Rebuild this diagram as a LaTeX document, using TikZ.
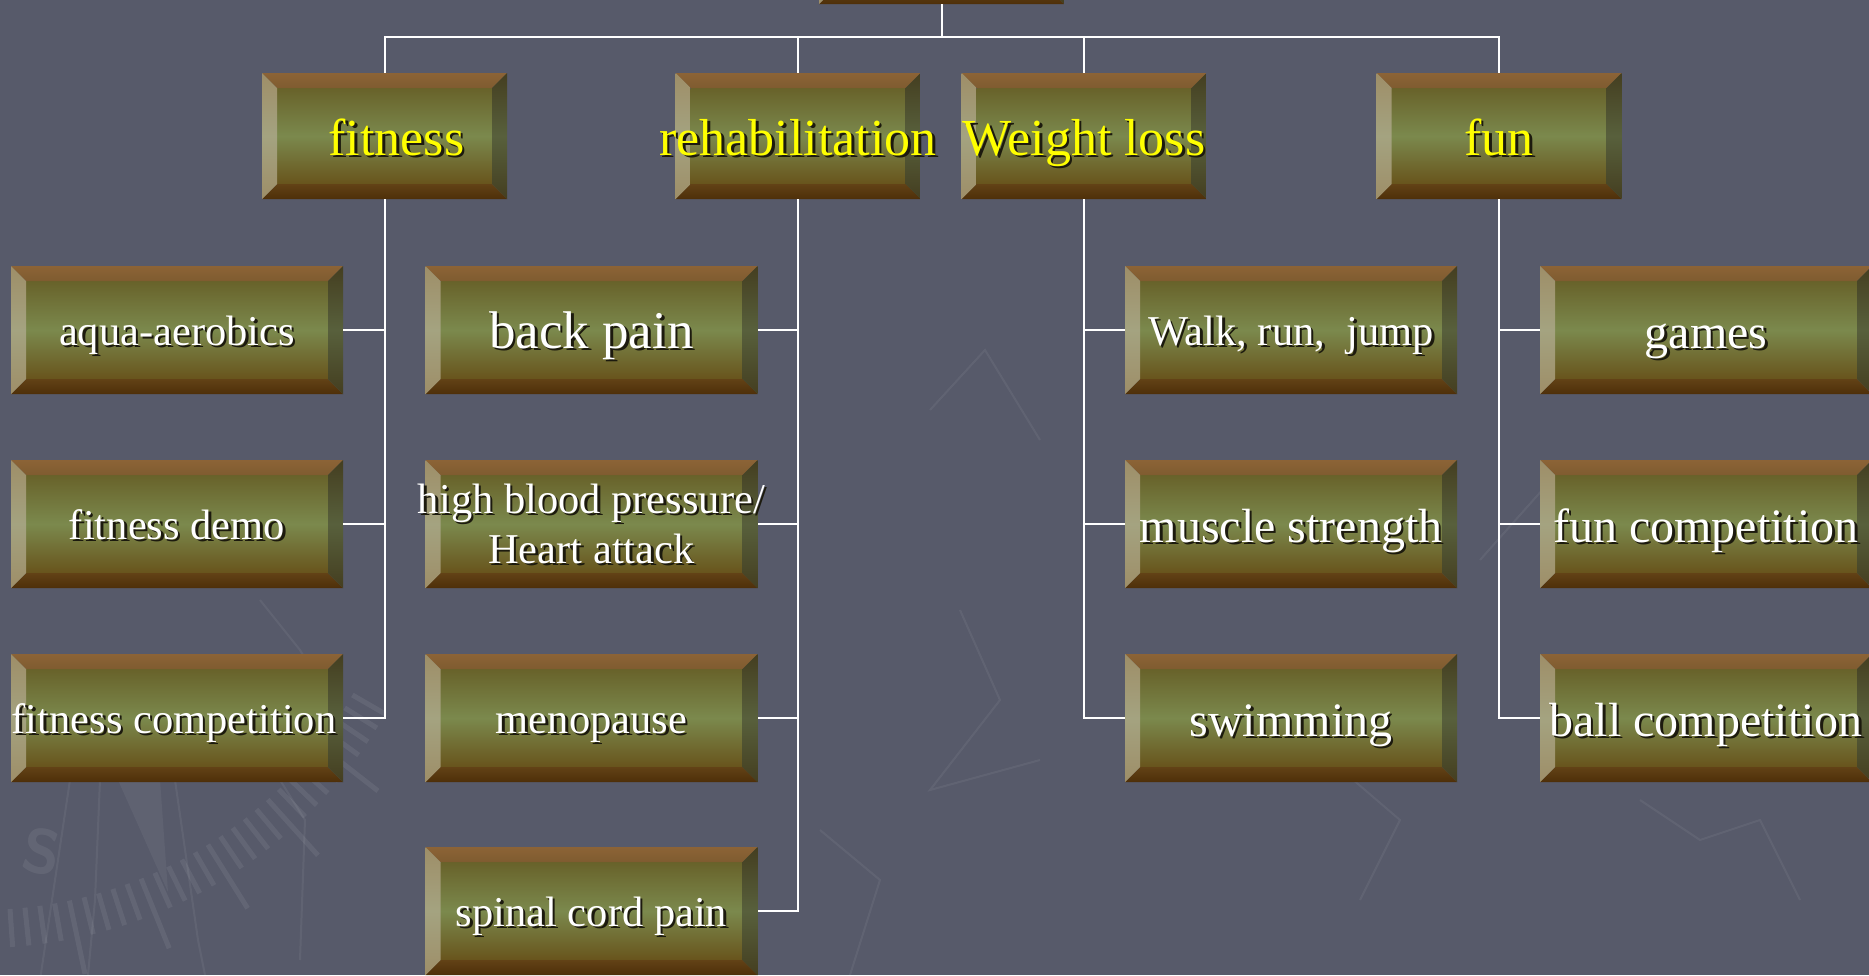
\documentclass[tikz,border=0pt]{standalone}
\usepackage{fontspec}
\setmainfont{Liberation Serif}
\usetikzlibrary{calc}

\definecolor{bg}{RGB}{87,90,106}
\definecolor{facetop}{RGB}{104,98,42}
\definecolor{facemid}{RGB}{123,137,77}
\definecolor{facebot}{RGB}{104,84,28}
\definecolor{bevtopA}{RGB}{140,99,54}
\definecolor{bevtopB}{RGB}{127,92,48}
\definecolor{bevbotA}{RGB}{98,66,22}
\definecolor{bevbotB}{RGB}{78,47,9}
\definecolor{bevlftA}{RGB}{158,142,104}
\definecolor{bevlftB}{RGB}{164,163,128}
\definecolor{bevrgtA}{RGB}{68,62,32}
\definecolor{bevrgtB}{RGB}{88,96,60}
\definecolor{txtshadow}{RGB}{28,26,14}
\definecolor{ylw}{RGB}{255,255,0}

% text with a dark drop shadow
\newcommand\shd[1]{\leavevmode\rlap{\kern2.5pt\raisebox{-2.5pt}{\color{txtshadow}#1}}#1}
% zero-width label so the box size never depends on the text
\newcommand\lbl[1]{\makebox[0pt]{\shd{#1}}}

\tikzset{
  bevbox/.style={rectangle, inner sep=0pt, text=white, text depth=0pt,
    path picture={
      \path (path picture bounding box.south west) coordinate (bsw)
            (path picture bounding box.north east) coordinate (bne);
      \shade[top color=facetop, bottom color=facebot, middle color=facemid]
        ($(bsw)+(15pt,15pt)$) rectangle ($(bne)+(-15pt,-15pt)$);
      \shade[top color=bevtopA, bottom color=bevtopB]
        (bsw|-bne) -- (bne) -- ($(bne)+(-15pt,-15pt)$) -- ($(bsw|-bne)+(15pt,-15pt)$) -- cycle;
      \shade[top color=bevbotA, bottom color=bevbotB]
        (bsw) -- (bne|-bsw) -- ($(bne|-bsw)+(-15pt,15pt)$) -- ($(bsw)+(15pt,15pt)$) -- cycle;
      \shade[top color=bevlftA, bottom color=bevlftA, middle color=bevlftB]
        (bsw) -- ($(bsw)+(15pt,15pt)$) -- ($(bsw|-bne)+(15pt,-15pt)$) -- (bsw|-bne) -- cycle;
      \shade[top color=bevrgtA, bottom color=bevrgtA, middle color=bevrgtB]
        (bne|-bsw) -- (bne) -- ($(bne)+(-15pt,-15pt)$) -- ($(bne|-bsw)+(-15pt,15pt)$) -- cycle;
    }},
  lvone/.style={bevbox, minimum width=245, minimum height=126, text=ylw,
    text height=38pt, font=\fontsize{52}{60}\selectfont},
  lvtwo/.style={bevbox, minimum width=332, minimum height=128,
    text height=30pt, font=\fontsize{42.5}{50}\selectfont},
  fmid/.style={text height=36pt, font=\fontsize{48}{56}\selectfont},
  fbig/.style={text height=36pt, font=\fontsize{53}{60}\selectfont},
  conn/.style={draw=white, line width=2pt},
  wm/.style={draw=white, draw opacity=0.07, line width=5pt},
  wmthin/.style={draw=white, draw opacity=0.06, line width=2pt},
}

\begin{document}
\begin{tikzpicture}[x=1pt, y=-1pt]
\useasboundingbox (0,0) rectangle (1869,975);
\clip (0,0) rectangle (1869,975);
\fill[bg] (0,0) rectangle (1869,975);

% faint compass watermark
\coordinate (cc) at (-20,480);
\foreach \a [count=\i] in {30,32,...,100}{
  \pgfmathsetmacro\len{ifthenelse(mod(\i,5)==0,75,38)}
  \draw[wm] ($(cc)+(\a:430)$) -- ($(cc)+(\a:430+\len)$);
}
\fill[white, opacity=0.05] (118,780) -- (160,780) -- (168,892) -- cycle;
\draw[wmthin] (70,780) -- (40,980);
\draw[wmthin] (100,780) -- (95,900) -- (88,975);
\draw[wmthin] (175,780) -- (198,940) -- (205,975);
\draw[wmthin] (280,780) -- (305,820) -- (300,960);
\draw[wmthin] (330,700) -- (300,650) -- (260,600);
\draw[wmthin] (930,410) -- (985,350) -- (1040,440);
\draw[wmthin] (960,610) -- (1000,700) -- (930,790) -- (1040,760);
\draw[wmthin] (820,830) -- (880,880) -- (850,975);
\draw[wmthin] (1330,760) -- (1400,820) -- (1360,900);
\draw[wmthin] (1640,800) -- (1700,840) -- (1760,820) -- (1800,900);
\draw[wmthin] (1480,560) -- (1560,470);
\node[text=white, text opacity=0.07, font=\sffamily\bfseries\fontsize{62}{62}\selectfont,
  rotate=-10] (sglyph) at (42,852) {S};

% root box, mostly above the top edge
\node[lvone] (top) at (941.5,-59) {};

% first level
\node[lvone] (fitness) at (384.5,136) {\makebox[0pt]{\kern24pt\shd{fitness}}};
\node[lvone] (rehab)   at (798,136)   {\lbl{rehabilitation}};
\node[lvone] (weight)  at (1084,136)  {\lbl{Weight loss}};
\node[lvone] (fun)     at (1499,136)  {\lbl{fun}};

% fitness branch
\node[lvtwo] (aqua)  at (177,330) {\lbl{aqua-aerobics}};
\node[lvtwo] (fdemo) at (177,524) {\lbl{fitness demo}};
\node[lvtwo] (fcomp) at (177,718) {\makebox[0pt]{\shd{fitness competition}\kern6pt}};

% rehabilitation branch
\node[lvtwo,fbig] (back) at (591.5,330) {\lbl{back pain}};
\node[lvtwo, text height=78pt] (hbp) at (591.5,524)
  {\makebox[0pt]{\begin{tabular}[b]{@{}c@{}}\shd{high blood pressure/}\\\shd{Heart attack}\end{tabular}}};
\node[lvtwo] (meno)   at (591.5,718) {\lbl{menopause}};
\node[lvtwo] (spinal) at (591.5,911) {\lbl{spinal cord pain}};

% weight loss branch
\node[lvtwo] (walk)        at (1291,330) {\lbl{Walk, run,~ jump}};
\node[lvtwo,fmid] (muscle) at (1291,524) {\lbl{muscle strength}};
\node[lvtwo,fmid] (swim)   at (1291,718) {\lbl{swimming}};

% fun branch
\node[lvtwo,fmid] (games)   at (1706,330) {\lbl{games}};
\node[lvtwo,fmid] (funcomp) at (1706,524) {\lbl{fun competition}};
\node[lvtwo,fmid] (ball)    at (1706,718) {\lbl{ball competition}};

% connectors
\coordinate (bus) at (941.5,37);
\draw[conn] (top.south) -- (bus);
\draw[conn] (fitness.north) |- (bus) -| (fun.north);
\draw[conn] (rehab.north) -- (rehab.north |- bus);
\draw[conn] (weight.north) -- (weight.north |- bus);
\foreach \c in {aqua,fdemo,fcomp} \draw[conn] (fitness.south) |- (\c.east);
\foreach \c in {back,hbp,meno,spinal} \draw[conn] (rehab.south) |- (\c.east);
\foreach \c in {walk,muscle,swim} \draw[conn] (weight.south) |- (\c.west);
\foreach \c in {games,funcomp,ball} \draw[conn] (fun.south) |- (\c.west);
\end{tikzpicture}
\end{document}
